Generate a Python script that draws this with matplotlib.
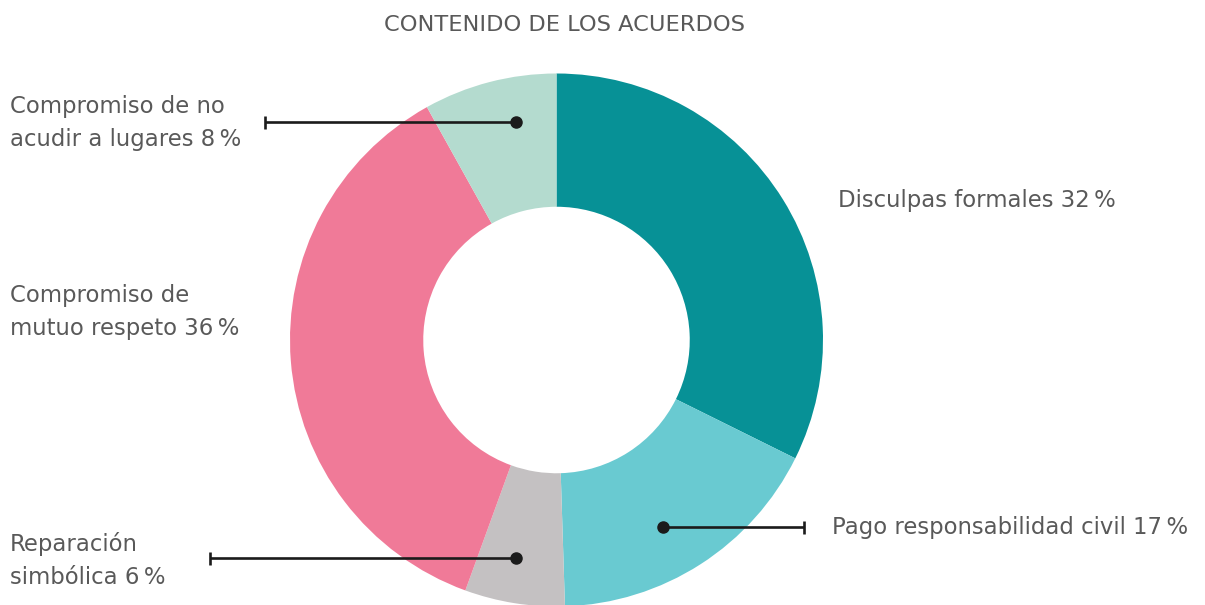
import matplotlib
matplotlib.use("Agg")
import matplotlib.pyplot as plt

# ---- data ----
categories = ["Disculpas formales", "Pago responsabilidad civil", "Reparación simbólica",
              "Compromiso de mutuo respeto", "Compromiso de no acudir a lugares"]
values = [32, 17, 6, 36, 8]
colors = ["#079196", "#69CAD1", "#C4C1C2", "#F07A98", "#B4DBCF"]
title = "CONTENIDO DE LOS ACUERDOS"

label_lines = [
    ["Disculpas formales 32\u2009%"],
    ["Pago responsabilidad civil 17\u2009%"],
    ["Reparación", "simbólica 6\u2009%"],
    ["Compromiso de", "mutuo respeto 36\u2009%"],
    ["Compromiso de no", "acudir a lugares 8\u2009%"],
]

W, H = 1205, 605
FAM = ["DejaVu Sans"]
TXT = "#595959"

fig = plt.figure(figsize=(W / 100, H / 100), dpi=100)
ax = fig.add_axes([0, 0, 1, 1])

cx, cy, R = 556.5, H - 340, 266.5
ax.pie(values, colors=colors, startangle=90, counterclock=False,
       center=(cx, cy), radius=R,
       wedgeprops=dict(width=R * 0.5, linewidth=0))
ax.set_xlim(0, W)
ax.set_ylim(0, H)
ax.set_aspect("auto")
ax.axis("off")

def Y(y):
    return H - y

fs = 16.4
ax.text(564.5, Y(31), title, ha="center", va="baseline", fontsize=16.2, color=TXT, family=FAM)

# label text: (x, first baseline, ha)
text_pos = [(838, 207, "left"), (832, 534, "left"), (10, 551, "left"),
            (10, 302, "left"), (10, 113, "left")]
spacing = 33
for lines, (x, yb, ha) in zip(label_lines, text_pos):
    for i, s in enumerate(lines):
        ax.text(x, Y(yb + i * spacing), s, ha=ha, va="baseline", fontsize=fs,
                color=TXT, family=FAM)

# leader lines: (dot x, line y, bar x)
leaders = [(663, 527, 804), (516, 558, 210), (516, 122, 265)]
LC = "#1b1b1b"
for dx, ly, bx in leaders:
    ax.plot([dx, bx], [Y(ly), Y(ly)], color=LC, lw=1.9, solid_capstyle="butt", zorder=5)
    ax.plot([bx, bx], [Y(ly) - 6.5, Y(ly) + 6.5], color=LC, lw=1.9, solid_capstyle="butt", zorder=5)
    ax.plot([dx], [Y(ly)], "o", color=LC, ms=8, zorder=6)

fig.savefig("out.png", dpi=100, facecolor="white")
